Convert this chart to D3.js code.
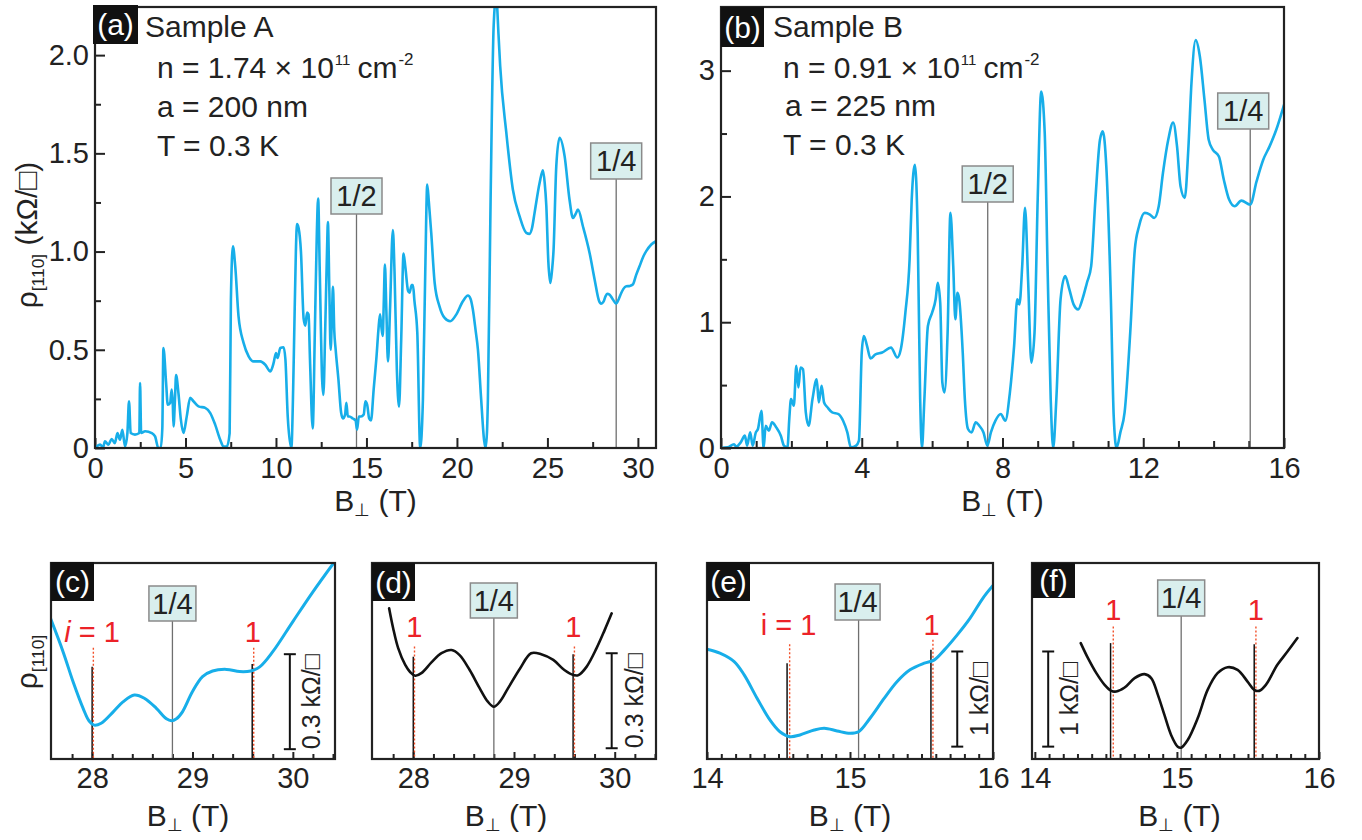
<!DOCTYPE html>
<html>
<head>
<meta charset="utf-8">
<script src="https://cdn.jsdelivr.net/npm/d3@7"></script>
<style>
  html, body { margin: 0; padding: 0; background: #fff; }
  svg { display: block; font-family: "Liberation Sans", Arial, Helvetica, sans-serif; }
</style>
</head>
<body>
<svg id="fig" width="1362" height="840"></svg>
<script>
// ---------- Sample A: full sweep, rho_[110] in kOhm/sq vs B_perp in T ----------
const aB = [0,0.28,0.45,0.55,0.74,0.92,1.1,1.24,1.38,1.51,1.66,1.79,1.88,1.97,2.21,2.45,2.49,2.55,2.77,3.14,3.32,3.5,3.63,3.72,3.78,3.93,4.02,4.15,4.24,4.3,4.34,4.42,4.48,4.61,4.74,4.89,5.07,5.26,5.44,5.72,6.09,6.37,6.64,6.92,7.1,7.29,7.44,7.51,7.62,7.75,7.93,8.21,8.49,8.76,9.13,9.41,9.69,9.87,10.0,10.09,10.24,10.42,10.52,10.65,10.85,10.95,11.01,11.1,11.16,11.25,11.38,11.53,11.62,11.72,11.8,11.88,12.03,12.15,12.26,12.33,12.42,12.55,12.62,12.72,12.82,12.87,12.95,13.02,13.1,13.15,13.22,13.3,13.45,13.6,13.7,13.82,13.89,13.97,14.06,14.25,14.4,14.48,14.58,14.7,14.85,14.94,15.04,15.15,15.25,15.4,15.56,15.66,15.75,15.82,15.9,15.96,16.02,16.1,16.19,16.3,16.46,16.55,16.68,16.8,16.92,17.05,17.15,17.3,17.38,17.5,17.57,17.65,17.81,17.97,18.12,18.25,18.36,18.45,18.58,18.77,19.04,19.32,19.63,19.96,20.33,20.61,20.75,20.88,21.03,21.16,21.34,21.5,21.58,21.66,21.71,21.86,22.03,22.17,22.3,22.39,22.73,23.09,23.46,23.83,24.01,24.15,24.29,24.57,24.75,24.85,24.94,25.05,25.16,25.25,25.34,25.49,25.67,25.95,26.22,26.41,26.55,26.69,26.96,27.33,27.61,27.85,27.97,28.1,28.21,28.3,28.43,28.62,28.8,28.95,29.08,29.2,29.36,29.55,29.72,29.9,30.09,30.3,30.46,30.74,31.0];
const aRho = [0,0.017,0.005,0.034,0.017,0.046,0.025,0.076,0.042,0.093,0.008,0.076,0.238,0.076,0.068,0.076,0.331,0.076,0.085,0.076,0.059,0,0,0.1,0.509,0.331,0.22,0.229,0.297,0.22,0.11,0.25,0.372,0.28,0.148,0.076,0.161,0.255,0.238,0.212,0.204,0.178,0.119,0.042,0.008,0.008,0.076,0.755,1.027,0.925,0.671,0.535,0.467,0.441,0.441,0.424,0.39,0.433,0.484,0.458,0.509,0.513,0.453,0.161,0,0.3,0.586,1.0,1.14,1.12,1.0,0.657,0.623,0.69,0.68,0.45,0.1,0.6,1.1,1.27,0.9,0.35,0.27,0.6,1.0,1.15,0.8,0.5,0.7,0.82,0.6,0.5,0.35,0.18,0.15,0.17,0.23,0.16,0.16,0.15,0.14,0.094,0.16,0.16,0.17,0.238,0.22,0.15,0.14,0.3,0.47,0.6,0.68,0.62,0.57,0.75,0.934,0.7,0.44,0.7,1.11,0.9,0.4,0.21,0.55,0.99,0.92,0.8,0.79,0.83,0.83,0.75,0.586,0,0.246,0.9,1.341,1.25,1.095,0.84,0.72,0.662,0.645,0.679,0.747,0.776,0.76,0.705,0.6,0.501,0.246,0.04,0,0.08,0.246,1.265,2.15,2.3,2.1,1.944,1.604,1.316,1.18,1.095,1.09,1.12,1.197,1.35,1.414,1.35,1.231,0.95,0.84,0.9,1.01,1.435,1.579,1.486,1.265,1.171,1.19,1.214,1.129,0.993,0.857,0.75,0.735,0.745,0.772,0.785,0.781,0.756,0.735,0.76,0.789,0.81,0.823,0.825,0.832,0.88,0.925,0.975,1.002,1.036,1.053];

// ---------- Sample B: full sweep ----------
const bB = [0,0.19,0.37,0.43,0.56,0.68,0.74,0.83,0.9,0.99,1.05,1.15,1.21,1.27,1.36,1.45,1.57,1.7,1.79,1.89,1.94,1.99,2.07,2.14,2.2,2.26,2.33,2.41,2.49,2.6,2.72,2.78,2.86,2.93,3.03,3.16,3.34,3.47,3.59,3.69,3.84,3.92,4.0,4.06,4.15,4.25,4.39,4.58,4.83,5.01,5.11,5.24,5.36,5.42,5.51,5.59,5.66,5.71,5.78,5.88,6.0,6.1,6.16,6.23,6.29,6.35,6.44,6.52,6.6,6.66,6.72,6.77,6.87,6.93,7.02,7.12,7.24,7.34,7.46,7.57,7.67,7.8,7.95,8.08,8.21,8.33,8.42,8.48,8.56,8.64,8.73,8.82,8.91,9.0,9.1,9.2,9.28,9.37,9.44,9.53,9.65,9.78,9.9,10.02,10.15,10.27,10.4,10.52,10.64,10.77,10.85,10.95,11.08,11.16,11.24,11.35,11.47,11.63,11.76,11.88,12.04,12.19,12.31,12.44,12.56,12.71,12.85,12.96,13.06,13.18,13.28,13.37,13.49,13.61,13.74,13.86,13.98,14.15,14.29,14.44,14.6,14.79,15.04,15.22,15.41,15.59,15.78,16.0];
const bRho = [0,0.005,0.03,0.01,0.045,0.098,0.019,0.124,0.019,0.124,0.151,0.296,0,0.177,0.137,0.204,0.164,0.098,0.019,0.005,0.23,0.389,0.336,0.653,0.481,0.64,0.626,0.283,0.177,0.389,0.547,0.362,0.494,0.362,0.322,0.283,0.27,0.217,0.124,0.005,0.019,0.058,0.759,0.891,0.812,0.711,0.745,0.759,0.798,0.719,0.785,1.076,1.499,1.975,2.252,1.71,0.389,0,0.389,0.97,1.076,1.182,1.314,1.155,0.521,0.441,0.917,1.869,1.446,1.023,1.234,1.182,0.759,0.389,0.151,0.124,0.204,0.177,0.124,0.019,0.124,0.217,0.27,0.217,0.441,0.812,1.182,1.142,1.446,1.909,1.314,0.679,0.917,1.975,2.834,2.503,1.446,0.389,0,0.389,1.182,1.367,1.261,1.142,1.102,1.182,1.314,1.446,1.975,2.45,2.517,2.239,1.182,0.256,0,0.124,0.283,0.917,1.578,1.763,1.869,1.856,1.829,1.922,2.186,2.45,2.588,2.398,2.08,1.988,2.371,2.9,3.243,3.111,2.768,2.45,2.371,2.318,2.133,1.975,1.922,1.967,1.935,2.12,2.292,2.398,2.53,2.728];

// ---------- close-ups around the 1/4 flux point ----------
const cB = [27.585,27.71,27.81,27.91,27.97,28.02,28.09,28.21,28.31,28.42,28.52,28.64,28.74,28.79,28.84,28.90,29.00,29.10,29.20,29.34,29.47,29.58,29.67,29.80,30.00,30.20,30.42];
const cRho = [1.059,0.954,0.859,0.775,0.735,0.722,0.728,0.764,0.796,0.817,0.807,0.775,0.742,0.736,0.742,0.764,0.828,0.875,0.893,0.898,0.891,0.893,0.906,0.954,1.049,1.143,1.24];
const dB = [27.76,27.80,27.85,27.92,27.97,28.02,28.08,28.18,28.28,28.38,28.46,28.56,28.66,28.74,28.80,28.86,28.94,29.06,29.17,29.27,29.39,29.50,29.59,29.64,29.72,29.82,29.90,29.97];
const dRho = [1.091,1.028,0.965,0.912,0.889,0.878,0.886,0.920,0.949,0.959,0.943,0.896,0.838,0.796,0.780,0.796,0.838,0.901,0.949,0.946,0.928,0.896,0.880,0.880,0.906,0.965,1.022,1.075];
const eB = [14.0,14.09,14.19,14.26,14.35,14.44,14.51,14.58,14.65,14.75,14.82,14.91,15.00,15.06,15.14,15.24,15.33,15.42,15.52,15.59,15.66,15.75,15.84,15.93,16.0];
const eRho = [2.815,2.773,2.684,2.544,2.299,2.071,1.947,1.895,1.913,1.965,1.983,1.955,1.930,1.947,2.088,2.299,2.474,2.597,2.667,2.702,2.807,2.965,3.141,3.352,3.484];
const fB = [14.323,14.374,14.433,14.491,14.538,14.573,14.632,14.702,14.772,14.819,14.866,14.912,14.959,15.006,15.029,15.076,15.146,15.216,15.286,15.357,15.427,15.497,15.544,15.579,15.626,15.707,15.778,15.848];
const fRho = [2.878,2.72,2.562,2.439,2.376,2.369,2.411,2.51,2.552,2.51,2.334,2.123,1.913,1.789,1.779,1.86,2.088,2.386,2.562,2.625,2.597,2.474,2.386,2.376,2.439,2.65,2.789,2.931];

// ---------- tick labels ----------
const aXTicks = [0,5,10,15,20,25,30];
const aYTicks = [0,0.5,1.0,1.5,2.0];
const aYTickLabels = ["0","0.5","1.0","1.5","2.0"];
const bXTicks = [0,4,8,12,16];
const bYTicks = [0,1,2,3];
const cdXTicks = [28,29,30];
const efXTicks = [14,15,16];

// ---------- flux markers ----------
const aFracLabels = ["1/2","1/4"];
const aFracB = [14.45, 28.8];
const bFracLabels = ["1/2","1/4"];
const bFracB = [7.58, 15.04];
const quarterB = { c: 28.8, d: 28.8, e: 15.06, f: 15.03 };

// i = 1 commensurability marks: black solid + red dotted (B, top value)
const cMarks = { black: [[28.0,0.906],[29.595,0.915]], red: [[28.012,0.966],[29.61,0.966]] };
const dMarks = { black: [[28.0,0.938],[29.587,0.946]], red: [[28.012,0.97],[29.60,0.97]] };
const eMarks = { black: [[14.56,2.667],[15.566,2.807]], red: [[14.578,2.867],[15.58,2.913]] };
const fMarks = { black: [[14.533,2.878],[15.544,2.867]], red: [[14.552,3.053],[15.556,3.053]] };

// scale bars: [B position, bottom value, length in kOhm/sq]
const cBar = [29.97, 0.646, 0.3];
const dBar = [29.97, 0.649, 0.3];
const eBar = [15.75, 1.79, 1.0];
const fBar = [14.094, 1.79, 1.0];

const CYAN = "#17aee9";
const RED = "#ec2228";
const svg = d3.select("#fig");

function makePanel(cfg) {
  const x = d3.scaleLinear().domain(cfg.xDomain).range([cfg.left, cfg.right]);
  const y = d3.scaleLinear().domain(cfg.yDomain).range([cfg.bottom, cfg.top]);
  const g = svg.append("g");
  const clipId = "clip-" + cfg.id;
  svg.append("clipPath").attr("id", clipId).append("rect")
    .attr("x", cfg.left).attr("y", cfg.top)
    .attr("width", cfg.right - cfg.left).attr("height", cfg.bottom - cfg.top);

  // x axis: inward ticks
  const xMinor = g.append("g").attr("transform", `translate(0,${cfg.bottom})`)
    .call(d3.axisBottom(x).tickValues(cfg.xMinor).tickSize(-cfg.minorLen).tickFormat(""));
  const xMajor = g.append("g").attr("transform", `translate(0,${cfg.bottom})`)
    .call(d3.axisBottom(x).tickValues(cfg.xTicks).tickSize(-cfg.majorLen).tickPadding(cfg.xPad)
      .tickFormat(d3.format("d")));
  [xMinor, xMajor].forEach(a => {
    a.select(".domain").remove();
    a.selectAll("line").attr("stroke", "#222").attr("stroke-width", 2);
    a.selectAll("text").attr("font-size", cfg.tickFont).attr("fill", "#222")
      .attr("font-family", "Liberation Sans, Arial, sans-serif");
  });
  if (cfg.yTicks) {
    const yMinor = g.append("g").attr("transform", `translate(${cfg.left},0)`)
      .call(d3.axisLeft(y).tickValues(cfg.yMinor).tickSize(-6).tickFormat(""));
    const yMajor = g.append("g").attr("transform", `translate(${cfg.left},0)`)
      .call(d3.axisLeft(y).tickValues(cfg.yTicks).tickSize(-10).tickPadding(6)
        .tickFormat((d, i) => cfg.yTickLabels[i]));
    [yMinor, yMajor].forEach(a => {
      a.select(".domain").remove();
      a.selectAll("line").attr("stroke", "#222").attr("stroke-width", 2);
      a.selectAll("text").attr("font-size", cfg.tickFont).attr("fill", "#222")
        .attr("font-family", "Liberation Sans, Arial, sans-serif");
    });
  }
  return { g, x, y, clipId };
}

function drawCurve(p, xs, ys, color, width, curve) {
  p.g.append("path")
    .datum(d3.zip(xs, ys))
    .attr("clip-path", `url(#${p.clipId})`)
    .attr("fill", "none").attr("stroke", color).attr("stroke-width", width)
    .attr("stroke-linejoin", "round").attr("stroke-linecap", "round")
    .attr("d", d3.line().x(d => p.x(d[0])).y(d => p.y(d[1])).curve(curve));
}

function drawFrame(p, cfg) {
  p.g.append("rect").attr("x", cfg.left).attr("y", cfg.top)
    .attr("width", cfg.right - cfg.left).attr("height", cfg.bottom - cfg.top)
    .attr("fill", "none").attr("stroke", "#222").attr("stroke-width", 2.2);
}

function panelTag(p, x0, y0, w, h, txt, fs) {
  p.g.append("rect").attr("x", x0).attr("y", y0).attr("width", w).attr("height", h).attr("fill", "#111");
  p.g.append("text").attr("x", x0 + w / 2).attr("y", y0 + h / 2 + fs * 0.36)
    .attr("text-anchor", "middle").attr("fill", "#fff").attr("font-size", fs).text(txt);
}

function fracBox(p, cfg, B, label, boxTop, w, h, shift, fs) {
  const xc = p.x(B);
  p.g.append("line").attr("x1", xc).attr("x2", xc).attr("y1", boxTop + h).attr("y2", cfg.bottom)
    .attr("stroke", "#6f6f6f").attr("stroke-width", 1.3);
  p.g.append("rect").attr("x", xc - w / 2 + shift).attr("y", boxTop).attr("width", w).attr("height", h)
    .attr("fill", "#d9efee").attr("stroke", "#8a8a8a").attr("stroke-width", 1.5);
  p.g.append("text").attr("x", xc + shift).attr("y", boxTop + h / 2 + fs * 0.36)
    .attr("text-anchor", "middle").attr("font-size", fs).attr("fill", "#222").text(label);
}

function xTitle(xc, baseline, fs) {
  const t = svg.append("text").attr("x", xc).attr("y", baseline).attr("text-anchor", "middle")
    .attr("font-size", fs).attr("fill", "#222");
  t.append("tspan").text("B");
  t.append("tspan").attr("font-size", fs * 0.6).attr("dy", 5).text("\u22A5");
  t.append("tspan").attr("dy", -5).text(" (T)");
}

function rhoTitle(xb, yc, fs, withUnit) {
  const t = svg.append("text").attr("transform", `translate(${xb},${yc}) rotate(-90)`)
    .attr("text-anchor", "middle").attr("font-size", fs).attr("fill", "#222");
  t.append("tspan").text("\u03C1");
  t.append("tspan").attr("font-size", fs * 0.58).attr("dy", 7).text("[110]");
  if (withUnit) t.append("tspan").attr("dy", -7).text(" (k\u03A9/\u25A1)");
}

function marks(p, cfg, m) {
  m.black.forEach(([B, v]) => {
    p.g.append("line").attr("x1", p.x(B)).attr("x2", p.x(B)).attr("y1", p.y(v)).attr("y2", cfg.bottom)
      .attr("stroke", "#111").attr("stroke-width", 1.5);
  });
  m.red.forEach(([B, v]) => {
    p.g.append("line").attr("x1", p.x(B)).attr("x2", p.x(B)).attr("y1", p.y(v)).attr("y2", cfg.bottom)
      .attr("stroke", "#f2502a").attr("stroke-width", 1.4).attr("stroke-dasharray", "2,2");
  });
}

function redLabel(p, B, baseline, parts) {
  const t = p.g.append("text").attr("x", p.x(B)).attr("y", baseline).attr("text-anchor", "middle")
    .attr("font-size", 29).attr("fill", RED);
  parts.forEach(([s, italic]) => t.append("tspan").attr("font-style", italic ? "italic" : "normal").text(s));
}

function scaleBar(p, bar, labelX, label) {
  const [B, v0, len] = bar;
  const xb = p.x(B), y0 = p.y(v0), y1 = p.y(v0 + len);
  const g = p.g.append("g").attr("stroke", "#111").attr("stroke-width", 2);
  g.append("line").attr("x1", xb).attr("x2", xb).attr("y1", y0).attr("y2", y1);
  g.append("line").attr("x1", xb - 6).attr("x2", xb + 6).attr("y1", y0).attr("y2", y0);
  g.append("line").attr("x1", xb - 6).attr("x2", xb + 6).attr("y1", y1).attr("y2", y1);
  p.g.append("text").attr("transform", `translate(${labelX},${(y0 + y1) / 2}) rotate(-90)`)
    .attr("text-anchor", "middle").attr("font-size", 25).attr("fill", "#222").text(label);
}

// ================= panel (a) =================
const cfgA = { id: "a", left: 95, right: 656, top: 7, bottom: 448, xDomain: [0, 31], yDomain: [0, 2.245],
  xTicks: aXTicks, xMinor: d3.range(2.5, 31, 5), yTicks: aYTicks, yTickLabels: aYTickLabels,
  yMinor: d3.range(0.25, 2.25, 0.5), majorLen: 10, minorLen: 6, xPad: 9, tickFont: 29 };
const pA = makePanel(cfgA);
aFracB.forEach((B, i) => fracBox(pA, cfgA, B, aFracLabels[i], i === 0 ? 178 : 143, 51, 36, 0, 29));
drawCurve(pA, aB, aRho, CYAN, 2.6, d3.curveMonotoneX);
drawFrame(pA, cfgA);
panelTag(pA, 93, 5, 45, 39, "(a)", 30);
pA.g.append("text").attr("x", 145).attr("y", 37).attr("font-size", 30).attr("fill", "#222").text("Sample A");

function densityLine(g, x, y, value) {
  const t = g.append("text").attr("x", x).attr("y", y).attr("font-size", 30).attr("fill", "#222");
  t.append("tspan").text(`n = ${value} \u00D7 10`);
  t.append("tspan").attr("font-size", 15).attr("dy", -13).attr("dx", 1).text("11");
  t.append("tspan").attr("dy", 13).attr("dx", 7).text("cm");
  t.append("tspan").attr("font-size", 17).attr("dy", -13).attr("dx", 1).text("-2");
}
densityLine(pA.g, 157, 78, "1.74");
pA.g.append("text").attr("x", 157).attr("y", 117).attr("font-size", 30).attr("fill", "#222").text("a = 200 nm");
pA.g.append("text").attr("x", 157).attr("y", 156).attr("font-size", 30).attr("fill", "#222").text("T = 0.3 K");
xTitle((cfgA.left + cfgA.right) / 2, 511, 30);
rhoTitle(37, 235, 30, true);

// ================= panel (b) =================
const cfgB = { id: "b", left: 721, right: 1284, top: 7, bottom: 448, xDomain: [0, 16], yDomain: [0, 3.506],
  xTicks: bXTicks, xMinor: d3.range(1, 16, 1).filter(v => v % 4 !== 0), yTicks: bYTicks,
  yTickLabels: bYTicks.map(String), yMinor: [0.5, 1.5, 2.5], majorLen: 10, minorLen: 7, xPad: 9, tickFont: 29 };
const pB = makePanel(cfgB);
bFracB.forEach((B, i) => fracBox(pB, cfgB, B, bFracLabels[i], i === 0 ? 166 : 93, 51, 36, i === 0 ? 0 : -7, 29));
drawCurve(pB, bB, bRho, CYAN, 2.6, d3.curveMonotoneX);
drawFrame(pB, cfgB);
panelTag(pB, 721, 7, 43, 40, "(b)", 30);
pB.g.append("text").attr("x", 773).attr("y", 37).attr("font-size", 30).attr("fill", "#222").text("Sample B");
densityLine(pB.g, 783, 78, "0.91");
pB.g.append("text").attr("x", 785).attr("y", 116).attr("font-size", 30).attr("fill", "#222").text("a = 225 nm");
pB.g.append("text").attr("x", 783).attr("y", 155).attr("font-size", 30).attr("fill", "#222").text("T = 0.3 K");
xTitle((cfgB.left + cfgB.right) / 2, 511, 30);

// ================= close-up panels (c)-(f) =================
const small = (id, left, right, xDomain, yDomain, xTicks, xMinor) => ({
  id, left, right, top: 563, bottom: 759, xDomain, yDomain, xTicks, xMinor,
  majorLen: 7, minorLen: 5, xPad: 8, tickFont: 29 });

const cfgC = small("c", 51, 335, [27.59, 30.42], [0.615, 1.234], cdXTicks,
  d3.range(27.8, 30.41, 0.2).filter(v => Math.abs(v - Math.round(v)) > 0.01));
const pC = makePanel(cfgC);
fracBox(pC, cfgC, quarterB.c, "1/4", 586, 47, 35, 0, 29);
marks(pC, cfgC, cMarks);
drawCurve(pC, cB, cRho, CYAN, 3, d3.curveCatmullRom.alpha(0.5));
drawFrame(pC, cfgC);
panelTag(pC, 51, 562, 43, 39, "(c)", 30);
redLabel(pC, 28.0, 642, [["i", true], [" = 1", false]]);
redLabel(pC, 29.6, 642, [["1", false]]);
scaleBar(pC, cBar, 320, "0.3 k\u03A9/\u25A1");
xTitle((cfgC.left + cfgC.right) / 2 - 5, 826, 30);
rhoTitle(37, 662, 30, false);

const cfgD = small("d", 372, 656, [27.59, 30.41], [0.615, 1.234], cdXTicks,
  d3.range(27.8, 30.41, 0.2).filter(v => Math.abs(v - Math.round(v)) > 0.01));
const pD = makePanel(cfgD);
fracBox(pD, cfgD, quarterB.d, "1/4", 583, 47, 35, 0, 29);
marks(pD, cfgD, dMarks);
drawCurve(pD, dB, dRho, "#111", 2.6, d3.curveCatmullRom.alpha(0.5));
drawFrame(pD, cfgD);
panelTag(pD, 372, 563, 43, 38, "(d)", 30);
redLabel(pD, 28.01, 637, [["1", false]]);
redLabel(pD, 29.59, 637, [["1", false]]);
scaleBar(pD, dBar, 643, "0.3 k\u03A9/\u25A1");
xTitle((cfgD.left + cfgD.right) / 2 - 8, 826, 30);

const cfgE = small("e", 707, 993, [14, 16], [1.66, 3.72], efXTicks,
  d3.range(14.1, 15.95, 0.1).filter(v => Math.abs(v - 15) > 0.01));
const pE = makePanel(cfgE);
fracBox(pE, cfgE, quarterB.e, "1/4", 584, 45, 36, -1, 29);
marks(pE, cfgE, eMarks);
drawCurve(pE, eB, eRho, CYAN, 3, d3.curveCatmullRom.alpha(0.5));
drawFrame(pE, cfgE);
panelTag(pE, 707, 562, 43, 39, "(e)", 30);
redLabel(pE, 14.57, 635, [["i = 1", false]]);
redLabel(pE, 15.57, 635, [["1", false]]);
scaleBar(pE, eBar, 988, "1 k\u03A9/\u25A1");
xTitle((cfgE.left + cfgE.right) / 2, 826, 30);

const cfgF = small("f", 1032, 1319, [13.98, 16.0], [1.66, 3.72], efXTicks,
  d3.range(14.1, 15.95, 0.1).filter(v => Math.abs(v - 15) > 0.01));
const pF = makePanel(cfgF);
fracBox(pF, cfgF, quarterB.f, "1/4", 580, 47, 36, 0, 29);
marks(pF, cfgF, fMarks);
drawCurve(pF, fB, fRho, "#111", 2.6, d3.curveCatmullRom.alpha(0.5));
drawFrame(pF, cfgF);
panelTag(pF, 1032, 563, 43, 35, "(f)", 30);
redLabel(pF, 14.552, 620, [["1", false]]);
redLabel(pF, 15.556, 620, [["1", false]]);
scaleBar(pF, fBar, 1078, "1 k\u03A9/\u25A1");
xTitle((cfgF.left + cfgF.right) / 2 + 4, 826, 30);
</script>
</body>
</html>
